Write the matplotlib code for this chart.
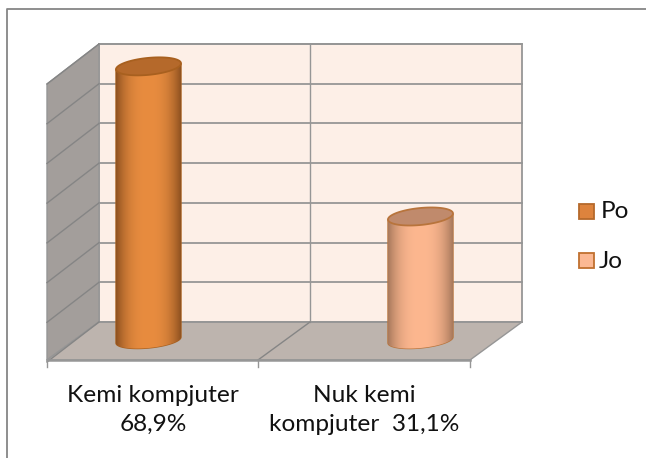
import numpy as np
from matplotlib import pyplot as plt
from matplotlib.colors import to_rgb
from matplotlib.patches import Polygon, Rectangle, PathPatch
from matplotlib.path import Path

plt.rcParams['font.family'] = ['Lato', 'DejaVu Sans']

# Values
categories = ["Kemi kompjuter\n68,9%", "Nuk kemi\nkompjuter  31,1%"]
values = [68.9, 31.1]
series = ["Po", "Jo"]
gridlines = [0, 10, 20, 30, 40, 50, 60, 70]

bar_light = ['#e88c3f', '#fdb78f']
bar_dark = ['#8f5220', '#a8795c']
bar_top = ['#b5692b', '#c08a6c']
bar_edge = ['#a8601f', '#b8743c']
legend_fill = ['#dd833d', '#fbb893']
legend_edge = ['#b5692b', '#c0702f']

# pixel layout of the fake 3d box
wall_l, wall_r, wall_t, wall_b = 99, 522, 44, 322
dx, dy = -52, 38
scale = (wall_b - wall_t) / 70
base_y = 340
bar_w = 65
bar_x = [148.5, 420.5]
cat_x = [153, 364.5]
tilt = 3


def y_of(v):
    return base_y - v * scale


def ellipse(cx, cy, w, h, n=80):
    t = np.linspace(0, 2 * np.pi, n)
    return np.c_[cx + w / 2 * np.cos(t), cy + h / 2 * np.sin(t) - tilt * np.cos(t)]


fig = plt.figure(figsize=(6.46, 4.58), dpi=100)
ax = fig.add_axes([0, 0, 1, 1])
ax.set_xlim(0, 646)
ax.set_ylim(458, 0)
ax.axis('off')

# outer frame, only left and top are inside the picture
ax.plot([6.5, 6.5, 646], [458, 8.5, 8.5], color='#868686', lw=1.3)

# walls and floor
grey = '#969696'
side_grey = '#858585'
ax.add_patch(Polygon([(wall_l, wall_t), (wall_r, wall_t), (wall_r, wall_b), (wall_l, wall_b)],
                     fc='#fdefe7', ec=grey, lw=1.3))
ax.add_patch(Polygon([(wall_l, wall_t), (wall_l + dx, wall_t + dy + 2), (wall_l + dx, wall_b + dy),
                      (wall_l, wall_b)], fc='#a39e9b', ec=grey, lw=1))
ax.add_patch(Polygon([(wall_l, wall_b), (wall_r, wall_b), (wall_r + dx, wall_b + dy),
                      (wall_l + dx, wall_b + dy)], fc='#bdb4ae', ec=grey, lw=1))

for g in gridlines:
    y = wall_b - g * scale
    ax.plot([wall_l, wall_r], [y, y], color=grey, lw=1.3, zorder=2)
    ax.plot([wall_l, wall_l + dx], [y, y + dy + 2], color=side_grey, lw=1, zorder=2)

# divider between categories
mid = (wall_l + wall_r) / 2 - 0.5
ax.plot([mid, mid], [wall_t, wall_b], color=grey, lw=1, zorder=2)
ax.plot([mid, mid + dx], [wall_b, wall_b + dy], color=side_grey, lw=1, zorder=2)
ax.plot([wall_l + dx, wall_r + dx], [wall_b + dy, wall_b + dy], color=grey, lw=1.8, zorder=2)
for x in [wall_l + dx, mid + dx, wall_r + dx]:
    ax.plot([x, x], [wall_b + dy, wall_b + dy + 7], color=grey, lw=1, zorder=2)

# cylinders
for i, v in enumerate(values):
    cx = bar_x[i]
    top = y_of(v)
    x0, x1 = cx - bar_w / 2, cx + bar_w / 2
    t = np.linspace(0, np.pi, 50)
    lower = np.c_[cx + bar_w / 2 * np.cos(t), base_y + 8 * np.sin(t) - tilt * np.cos(t)]
    body = np.vstack([[x1, top - tilt], lower, [x0, top + tilt]])
    clip = PathPatch(Path(np.vstack([body, body[0]])), fc='none', ec=bar_edge[i], lw=1, zorder=3)
    ax.add_patch(clip)

    # horizontal shading across the cylinder
    s = np.linspace(-1, 1, 130)
    mix = np.clip(np.abs(s) ** 2.6, 0, 1)[None, :, None]
    light = np.array(to_rgb(bar_light[i]))[None, None, :]
    dark = np.array(to_rgb(bar_dark[i]))[None, None, :]
    im = ax.imshow(light * (1 - mix) + dark * mix, extent=(x0, x1, base_y + 12, top - 6),
                   aspect='auto', zorder=3, interpolation='bilinear')
    im.set_clip_path(clip)

    ax.add_patch(Polygon(ellipse(cx, top, bar_w, 17), fc=bar_top[i], ec=bar_edge[i],
                         lw=1.3, zorder=4))
ax.set_xlim(0, 646)
ax.set_ylim(458, 0)

# category labels
for x, c in zip(cat_x, categories):
    ax.text(x, 410, c, ha='center', va='center', fontsize=17.6, color='#111111', linespacing=1.5)

# legend
legend_y = [211, 260]
legend_tx = [601, 599]
for i, s in enumerate(series):
    ax.add_patch(Rectangle((578.5, legend_y[i] - 7.5), 15, 15, fc=legend_fill[i], ec=legend_edge[i], lw=1.3))
    ax.text(legend_tx[i], legend_y[i] + 1, s, ha='left', va='center', fontsize=17.6, color='#111111')

plt.savefig("out.png", dpi=100)
